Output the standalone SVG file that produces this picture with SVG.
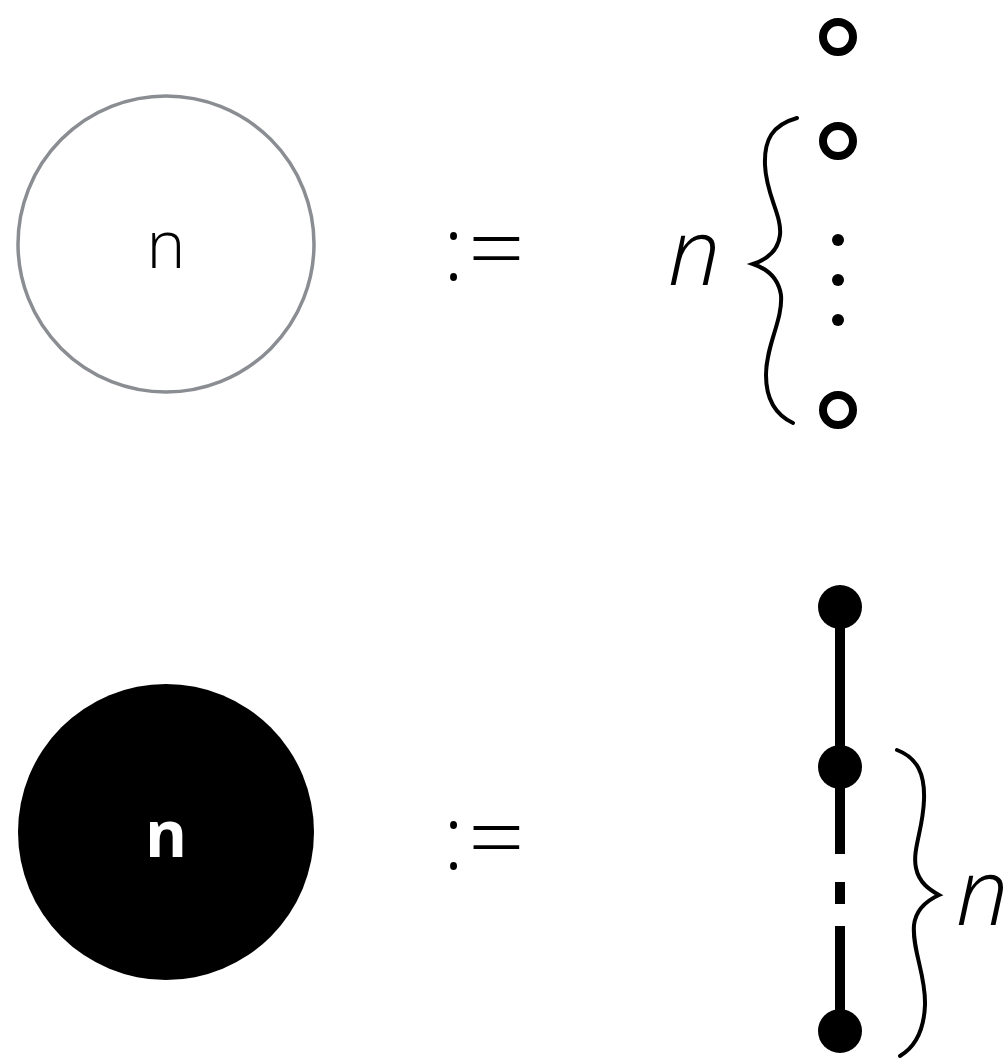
<svg xmlns="http://www.w3.org/2000/svg" width="1008" height="1064" viewBox="0 0 1008 1064">
<style>
.lbl{font-family:"Open Sans","Liberation Sans",sans-serif;font-weight:300;fill:#000}
.it{font-family:"Open Sans","Liberation Sans",sans-serif;font-style:italic;font-weight:300;font-size:93px;fill:#000}
.def{font-family:"Open Sans","Liberation Sans",sans-serif;font-weight:300;font-size:88px;fill:#000}
.ring{fill:none;stroke:#000;stroke-width:8}
.dot{fill:#000}
.brace{fill:none;stroke:#000;stroke-width:4;stroke-linecap:round}
.edge{stroke:#000;stroke-width:10;fill:none}
</style>
<rect width="1008" height="1064" fill="#fff"/>
<g id="node-open-n">
<circle cx="166" cy="244" r="148" fill="#fff" stroke="#8a8d91" stroke-width="3.5"/>
<text class="lbl" x="166" y="268" font-size="66" text-anchor="middle">n</text>
</g>
<g id="node-filled-n">
<circle cx="166" cy="832" r="148" fill="#000"/>
<text x="166" y="857" font-size="64" font-weight="700" text-anchor="middle" fill="#fff" font-family="Open Sans, Liberation Sans, sans-serif">n</text>
</g>
<g id="def-top">
<text class="def" x="443" y="280">:</text>
<text class="def" transform="translate(468,281) scale(1.13,1.05)">=</text>
</g>
<g id="def-bottom">
<text class="def" x="443" y="869">:</text>
<text class="def" transform="translate(468,870) scale(1.13,1.05)">=</text>
</g>
<g id="label-n-top"><text class="it" x="668" y="285">n</text></g>
<g id="label-n-bottom"><text class="it" x="956" y="925">n</text></g>
<g id="braces">
<path class="brace" d="M 797 118 C 772 125, 764 140, 765 165 C 766 195, 782 215, 780 235 C 778 252, 765 260, 753 264 C 765 268, 778 276, 781 295 C 783 320, 766 345, 766 375 C 766 400, 776 415, 793 423"/>
<path class="brace" d="M 897 750 C 918 758, 925 775, 924 800 C 923 830, 912 850, 916 868 C 919 883, 930 890, 939 895 C 928 900, 916 908, 914 925 C 912 950, 926 975, 925 1005 C 924 1030, 915 1047, 900 1056"/>
</g>
<g id="connectors">
<line class="edge" x1="840" y1="607" x2="840" y2="854"/>
<line class="edge" x1="840" y1="882" x2="840" y2="904"/>
<line class="edge" x1="840" y1="926" x2="840" y2="1031"/>
</g>
<g id="node-ring-1"><circle class="ring" cx="838" cy="37" r="15"/></g>
<g id="node-ring-2"><circle class="ring" cx="838" cy="141" r="15"/></g>
<g id="node-dots"><circle class="dot" cx="838" cy="240" r="6"/><circle class="dot" cx="838" cy="280" r="6"/><circle class="dot" cx="838" cy="320" r="6"/></g>
<g id="node-ring-3"><circle class="ring" cx="838" cy="410" r="15"/></g>
<g id="node-black-1"><circle class="dot" cx="840" cy="607" r="22"/></g>
<g id="node-black-2"><circle class="dot" cx="840" cy="767" r="22"/></g>
<g id="node-black-3"><circle class="dot" cx="840" cy="1031" r="22"/></g>
</svg>
